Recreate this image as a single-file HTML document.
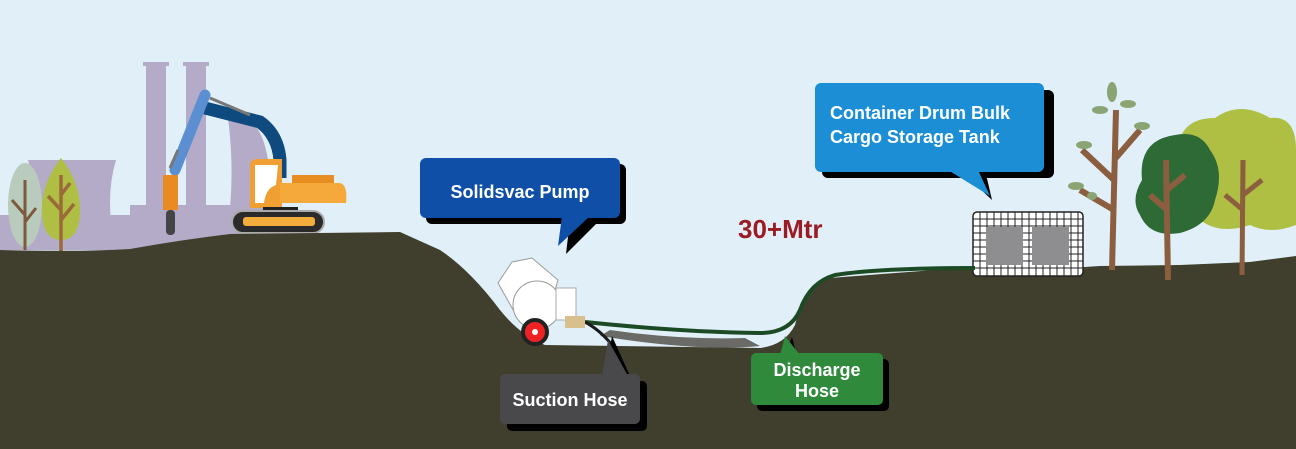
<!DOCTYPE html>
<html><head><meta charset="utf-8"><style>
html,body{margin:0;padding:0;background:#e1f0f8;}
svg{display:block}
text{font-family:"Liberation Sans",Arial,sans-serif;font-weight:bold;}
</style></head><body>
<svg width="1296" height="449" viewBox="0 0 1296 449" xmlns="http://www.w3.org/2000/svg">
<rect width="1296" height="449" fill="#e1f0f8"/>
<!-- factory -->
<g fill="#b4abc9">
<rect x="146" y="63" width="20" height="180"/><rect x="186" y="63" width="20" height="180"/>
<rect x="143" y="62" width="26" height="4"/><rect x="183" y="62" width="26" height="4"/>
<path d="M28 160 H115 Q100 200 112 250 H26 Q40 200 28 160Z"/>
<path d="M78 160 H116 Q104 200 116 250 H80Z"/>
<path d="M228 118 Q260 110 268 160 L270 240 H226 Q236 180 228 118Z"/>
<rect x="0" y="215" width="300" height="35"/>
<rect x="130" y="205" width="120" height="40"/>
</g>
<!-- small trees left -->
<ellipse cx="25" cy="205" rx="17" ry="42" fill="#b9cbbd"/>
<path d="M25 250 V180 M25 215 L12 200 M25 222 L36 208" stroke="#7d5a3c" stroke-width="3" fill="none"/>
<path d="M61 158 Q82 185 80 215 Q78 240 61 240 Q44 240 42 215 Q40 185 61 158Z" fill="#aebf43"/>
<path d="M61 252 V175 M61 210 L48 196 M61 220 L74 204 M61 195 L70 183" stroke="#9a6a3a" stroke-width="3.5" fill="none"/>
<!-- excavator -->
<path d="M205 108 L260 122 Q278 135 280 160 L280 178" stroke="#0f4a7e" stroke-width="13" fill="none"/>
<path d="M205 95 L175 170" stroke="#5b8fd1" stroke-width="11" stroke-linecap="round"/>
<path d="M210 98 L250 115 M178 150 L170 168" stroke="#777" stroke-width="3"/>
<rect x="163" y="175" width="15" height="35" fill="#e98b22"/>
<rect x="166" y="210" width="9" height="25" rx="4" fill="#444"/>
<path d="M250 165 Q250 160 256 159 H282 V208 H250Z" fill="#f0a033"/>
<path d="M255 165 H278 L276 185 Q266 188 264 203 H255Z" fill="#fff"/>
<path d="M280 183 H340 Q348 185 346 203 H280Z" fill="#f5a93a"/>
<rect x="292" y="175" width="42" height="8" fill="#e88e20"/>
<rect x="263" y="207" width="35" height="6" fill="#222"/>
<rect x="232" y="211" width="92" height="22" rx="11" fill="#2b2b2b" stroke="#aaa" stroke-width="2"/>
<rect x="243" y="217" width="72" height="9" rx="3" fill="#f4ad3a"/>
<!-- ground -->
<path d="M0 250 Q80 252 130 249 Q180 240 230 234 L400 232 L440 250 Q470 270 500 310 Q520 335 545 345 L760 348 Q785 345 795 325 Q805 285 830 278 L960 268 L1040 270 L1100 266 L1180 265 L1250 262 L1296 256 V449 H0Z" fill="#403e2c"/>
<!-- right trees -->
<path d="M1178 150 Q1180 118 1215 118 Q1240 100 1270 118 Q1296 115 1296 150 V225 Q1270 235 1250 225 Q1220 235 1200 220 Q1175 200 1178 150Z" fill="#aebf43"/>
<path d="M1112 270 L1116 110 M1114 180 L1082 150 M1114 160 L1140 130 M1114 210 L1080 190" stroke="#8a5e3e" stroke-width="6" fill="none"/>
<g fill="#8aa474"><ellipse cx="1112" cy="92" rx="5" ry="10"/><ellipse cx="1100" cy="110" rx="8" ry="4"/><ellipse cx="1128" cy="104" rx="8" ry="4"/><ellipse cx="1142" cy="126" rx="8" ry="4"/><ellipse cx="1084" cy="145" rx="8" ry="4"/><ellipse cx="1076" cy="186" rx="8" ry="4"/><ellipse cx="1092" cy="196" rx="5" ry="4"/></g>
<path d="M1142 180 Q1138 140 1175 135 Q1200 130 1210 150 Q1225 170 1215 200 Q1210 225 1180 233 Q1150 238 1140 215 Q1130 200 1142 180Z" fill="#2e6a35"/>
<path d="M1168 280 L1166 160 M1167 210 L1150 195 M1167 190 L1185 175" stroke="#8a5e3e" stroke-width="6" fill="none"/>
<path d="M1242 275 L1243 160 M1243 210 L1225 195 M1243 195 L1262 180" stroke="#8a5e3e" stroke-width="5" fill="none"/>
<!-- tank -->
<rect x="973" y="212" width="110" height="64" rx="4" fill="#fff" stroke="#222" stroke-width="1.5"/>
<g stroke="#222" stroke-width="1">
<path d="M980 212V276M987 212V276M994 212V276M1001 212V276M1008 212V276M1015 212V276M1022 212V276M1029 212V276M1036 212V276M1043 212V276M1050 212V276M1057 212V276M1064 212V276M1071 212V276M1078 212V276"/>
<path d="M973 219H1083M973 226H1083M973 233H1083M973 240H1083M973 247H1083M973 254H1083M973 261H1083M973 268H1083"/>
</g>
<rect x="986" y="227" width="37" height="38" fill="#8e8e90"/><rect x="1032" y="227" width="37" height="38" fill="#8e8e90"/>
<!-- gravel -->
<path d="M600 336 Q700 352 760 346 L745 338 Q680 340 610 330Z" fill="#6a6a66"/>
<!-- hose -->
<path d="M585 322 Q680 332 760 333 Q790 333 800 310 Q810 282 835 275 Q880 268 975 268" stroke="#1b4a24" stroke-width="4" fill="none"/>
<path d="M585 322 Q600 330 612 345 L618 355" stroke="#1b1b1b" stroke-width="3" fill="none"/>
<!-- pump -->
<path d="M498 283 L512 262 L532 258 L558 280 L552 300 L520 322Z" fill="#fff" stroke="#999"/>
<circle cx="537" cy="305" r="24" fill="#fff" stroke="#999"/>
<rect x="556" y="288" width="20" height="32" fill="#fff" stroke="#aaa"/>
<rect x="565" y="316" width="20" height="12" fill="#d8c08e"/>
<circle cx="535" cy="332" r="12" fill="#e22" stroke="#222" stroke-width="4"/>
<circle cx="535" cy="332" r="3" fill="#fff"/>
<!-- bubbles -->
<g>
<rect x="426" y="164" width="200" height="60" rx="6" fill="#000"/>
<path d="M570 220 L566 254 L600 220Z" fill="#000"/>
<rect x="420" y="158" width="200" height="60" rx="6" fill="#0f4fa8"/>
<path d="M562 216 L558 246 L590 216Z" fill="#0f4fa8"/>
<text x="520" y="198" font-size="18" fill="#fff" text-anchor="middle">Solidsvac Pump</text>
</g>
<g>
<rect x="822" y="90" width="232" height="88" rx="6" fill="#000"/>
<path d="M960 170 L992 200 L985 170Z" fill="#000"/>
<rect x="815" y="83" width="229" height="89" rx="6" fill="#1b8ed6"/>
<path d="M948 170 L990 196 L978 170Z" fill="#1b8ed6"/>
<text x="830" y="119" font-size="18" fill="#fff">Container Drum Bulk</text>
<text x="830" y="143" font-size="18" fill="#fff">Cargo Storage Tank</text>
</g>
<g>
<rect x="507" y="381" width="140" height="50" rx="5" fill="#000"/>
<path d="M605 376 L612 336 L630 376Z" fill="#000"/>
<rect x="500" y="374" width="140" height="50" rx="5" fill="#49494b"/>
<path d="M602 376 L608 340 L628 376Z" fill="#49494b"/>
<text x="570" y="406" font-size="18" fill="#fff" text-anchor="middle">Suction Hose</text>
</g>
<g>
<rect x="757" y="359" width="132" height="52" rx="5" fill="#000"/>
<path d="M785 356 L792 337 L797 356Z" fill="#000"/>
<rect x="751" y="353" width="132" height="52" rx="5" fill="#2f8a3c"/>
<path d="M780 355 L785 336 L800 355Z" fill="#2f8a3c"/>
<text x="817" y="376" font-size="18" fill="#fff" text-anchor="middle">Discharge</text>
<text x="817" y="397" font-size="18" fill="#fff" text-anchor="middle">Hose</text>
</g>
<text x="738" y="238" font-size="26" fill="#9b1c24">30+Mtr</text>
</svg>
</body></html>
